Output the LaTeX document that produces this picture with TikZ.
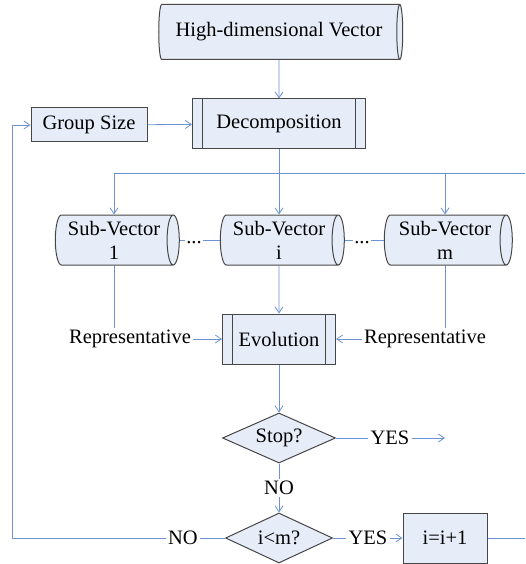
\documentclass[tikz,border=0pt]{standalone}
\usepackage{fontspec}
\setmainfont{Liberation Serif}
\usetikzlibrary{shapes.geometric,arrows.meta}
\definecolor{boxfill}{RGB}{231,237,248}
\definecolor{boxline}{RGB}{70,70,70}
\definecolor{flow}{RGB}{108,146,212}

\tikzset{
  base/.style={draw=boxline, fill=boxfill, line width=1pt,
    font=\fontsize{20.5}{24}\selectfont, inner sep=0pt, align=center},
  proc/.style={base, rectangle, minimum width=#1, minimum height=50},
  predef/.style={base, rectangle, minimum width=#1, minimum height=50,
    path picture={\draw[boxline, line width=1pt]
      ([xshift=10pt]path picture bounding box.north west) --
      ([xshift=10pt]path picture bounding box.south west)
      ([xshift=-10pt]path picture bounding box.north east) --
      ([xshift=-10pt]path picture bounding box.south east);}},
  store/.style={base, cylinder, shape border rotate=0, aspect=0.32,
    minimum width=50, minimum height=#1},
  decision/.style={base, diamond, aspect=2.2, minimum width=#1, minimum height=50},
  lbl/.style={font=\fontsize{20.5}{24}\selectfont, inner sep=2pt},
  flowline/.style={draw=flow, line width=0.8pt},
  arr/.style={flowline, -{Straight Barb[length=6pt,width=8pt]}},
}

\begin{document}
\begin{tikzpicture}[x=1pt,y=-1pt]
  \useasboundingbox (0,0) rectangle (525,564);

  % input and decomposition
  \node[store=244, minimum width=55] (hv) at (279,32) {High-dimensional Vector};
  \node[predef=173] (dec) at (279,124) {Decomposition};
  \node[proc=116, minimum height=34] (gs) at (89,125) {Group Size};
  \draw[arr] (hv) -- (dec);
  \draw[arr] (gs) -- (dec);

  % sub-vectors
  \node[store=124] (sv1) at (114,240) {Sub-Vector\\1};
  \node[store=124] (svi) at (279,240) {Sub-Vector\\i};
  \node[store=128] (svm) at (445,240) {Sub-Vector\\m};

  % distribution bus
  \coordinate (busR) at (525,173);
  \draw[flowline] (dec.south) -- (dec.south |- busR);
  \draw[flowline] (sv1.north |- busR) -- (busR);
  \draw[arr] (sv1.north |- busR) -- (sv1.north);
  \draw[arr] (svi.north |- busR) -- (svi.north);
  \draw[arr] (svm.north |- busR) -- (svm.north);

  % ellipses between sub-vectors
  \node[lbl, inner sep=1pt] (d1) at (194,243) {...};
  \node[lbl, inner sep=1pt] (d2) at (362,243) {...};
  \draw[flowline] (sv1.east) -- (sv1.east -| d1.west);
  \draw[flowline] (d1.east |- svi.west) -- (svi.west);
  \draw[flowline] (svi.east) -- (svi.east -| d2.west);
  \draw[flowline] (d2.east |- svm.west) -- (svm.west);

  % evolution
  \node[predef=113] (evo) at (279,339) {Evolution};
  \node[lbl] (r1) at (130,339) {Representative};
  \node[lbl] (r2) at (425,339) {Representative};
  \draw[flowline] (sv1.south) -- (sv1.south |- r1.north);
  \draw[flowline] (svm.south) -- (svm.south |- r2.north);
  \draw[arr] (r1) -- (evo);
  \draw[arr] (r2) -- (evo);
  \draw[arr] (svi.south) -- (evo.north);

  % stopping test
  \node[decision=113] (stop) at (279,438) {Stop?};
  \draw[arr] (evo) -- (stop);
  \node[lbl] (yes1) at (390,438) {YES};
  \coordinate (exit) at (445,438);
  \draw[flowline] (stop.east) -- (yes1.west);
  \draw[arr] (yes1.east) -- (exit);

  \node[lbl] (no1) at (279,488) {NO};
  \node[decision=107] (ilm) at (279,538) {i<m?};
  \draw[flowline] (stop.south) -- (no1.north);
  \draw[arr] (no1.south) -- (ilm.north);

  % counter and loop back
  \node[lbl] (yes2) at (368,538) {YES};
  \node[proc=84] (inc) at (445,538) {i=i+1};
  \draw[flowline] (ilm.east) -- (yes2.west);
  \draw[arr] (yes2.east) -- (inc.west);
  \coordinate (incR) at (525,538);
  \draw[flowline] (inc.east) -- (incR);

  \node[lbl] (no2) at (183,538) {NO};
  \coordinate (loopL) at (12,538);
  \draw[flowline] (ilm.west) -- (no2.east);
  \draw[arr] (no2.west) -- (loopL) |- (gs.west);
\end{tikzpicture}
\end{document}
